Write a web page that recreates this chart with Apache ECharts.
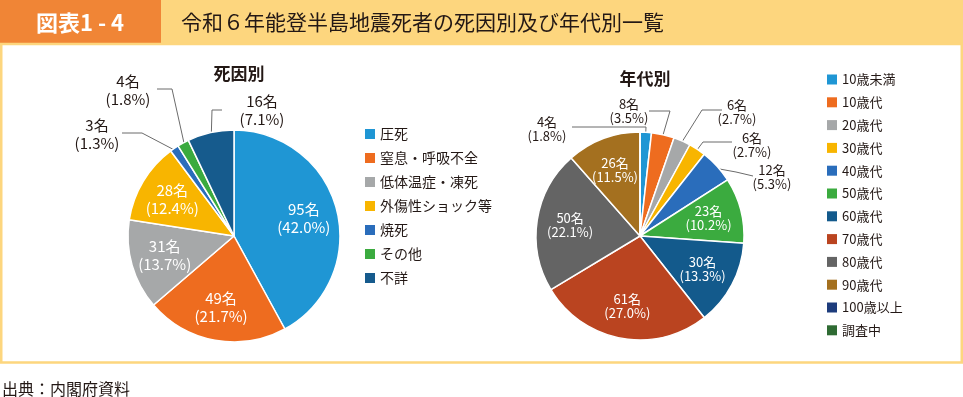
<!DOCTYPE html>
<html>
<head>
<meta charset="utf-8">
<script src="https://cdn.jsdelivr.net/npm/echarts@6/dist/echarts.min.js"></script>
<style>
  html, body { margin: 0; padding: 0; background: #fff; }
  #chart { width: 963px; height: 397px; }
</style>
</head>
<body>
<div id="chart"></div>
<script>
// 死因別
var causeNames = ["圧死", "窒息・呼吸不全", "低体温症・凍死", "外傷性ショック等", "焼死", "その他", "不詳"];
var causeValues = [95, 49, 31, 28, 3, 4, 16];
// 年代別
var ageNames = ["10歳未満", "10歳代", "20歳代", "30歳代", "40歳代", "50歳代", "60歳代", "70歳代", "80歳代", "90歳代", "100歳以上", "調査中"];
var ageValues = [4, 8, 6, 6, 12, 23, 30, 61, 50, 26, 0, 0];

var causeColors = ["#1f96d4", "#ee6c1f", "#a6a8a9", "#f8b500", "#2a6dbb", "#3bab3f", "#165b8d"];
var ageColors = ["#1f96d4", "#ee6c1f", "#a6a8a9", "#f8b500", "#2a6dbb", "#3bab3f", "#135a8c", "#ba4420", "#646464", "#a4701f", "#1d3c7c", "#2f6b33"];

var textColor = "#231815";

// pie geometry + where the small-slice labels sit
var pies = [
  {
    values: causeValues, center: [234, 236], r: 106, inner: 0.68,
    outside: {
      4: { pos: [97, 134], bend: [142, 133], end: [122, 133] },
      5: { pos: [128, 90], bend: [172, 89], end: [157, 89] },
      6: { pos: [262, 110], bend: [212, 110], end: [222, 110] }
    }
  },
  {
    values: ageValues, center: [640, 236], r: 104, inner: 0.68,
    outside: {
      0: { pos: [547, 129], bend: [646, 127], end: [572, 127] },
      1: { pos: [629, 111], bend: [670, 111], end: [649, 111] },
      2: { pos: [737, 112], bend: [702, 110], end: [722, 110] },
      3: { pos: [752, 145], bend: [703, 142], end: [732, 142] },
      4: { pos: [772, 177], bend: [736, 172], end: [753, 176] }
    }
  }
];

function sum(arr) {
  return arr.reduce(function (a, b) { return a + b; }, 0);
}

function midAngle(values, i) {
  var before = sum(values.slice(0, i));
  return (before + values[i] / 2) / sum(values) * Math.PI * 2;
}

function labelText(values) {
  var total = sum(values);
  return function (p) {
    return p.value + "名\n(" + (p.value / total * 100).toFixed(1) + "%)";
  };
}

function buildData(names, values, colors, pie) {
  return names.map(function (n, i) {
    var item = { name: n, value: values[i], itemStyle: { color: colors[i] } };
    if (values[i] === 0) {
      item.label = { show: false };
      item.labelLine = { show: false };
    } else if (pie.outside[i]) {
      item.label = { position: "outside", color: textColor };
      item.labelLine = { show: true, lineStyle: { color: "#6b6b6b", width: 1 } };
    }
    return item;
  });
}

function layoutFor(pie) {
  return function (params) {
    var a = midAngle(pie.values, params.dataIndex);
    var cx = pie.center[0], cy = pie.center[1];
    var o = pie.outside[params.dataIndex];
    if (o) {
      var sx = cx + (pie.r - 3) * Math.sin(a);
      var sy = cy - (pie.r - 3) * Math.cos(a);
      return {
        x: o.pos[0], y: o.pos[1], align: "center", verticalAlign: "middle",
        labelLinePoints: [[sx, sy], o.bend, o.end]
      };
    }
    return {
      x: cx + pie.r * pie.inner * Math.sin(a),
      y: cy - pie.r * pie.inner * Math.cos(a),
      align: "center", verticalAlign: "middle"
    };
  };
}

var chart = echarts.init(document.getElementById("chart"));

var font = "'Noto Sans CJK JP', 'Noto Sans', sans-serif";

chart.setOption({
  animation: false,
  textStyle: { fontFamily: font },
  title: [
    {
      text: "死因別", left: 234, top: 60, textAlign: "center",
      textStyle: { fontSize: 17, fontWeight: "bold", color: textColor, fontFamily: font }
    },
    {
      text: "年代別", left: 640, top: 65, textAlign: "center",
      textStyle: { fontSize: 17, fontWeight: "bold", color: textColor, fontFamily: font }
    }
  ],
  legend: [
    {
      data: causeNames, orient: "vertical", left: 360, top: 122,
      icon: "rect", itemWidth: 10, itemHeight: 10, itemGap: 10,
      selectedMode: false, itemStyle: { borderWidth: 0 },
      textStyle: { fontSize: 14, color: textColor, fontFamily: font }
    },
    {
      data: ageNames, orient: "vertical", left: 822, top: 68,
      icon: "rect", itemWidth: 10, itemHeight: 10, itemGap: 9.8,
      selectedMode: false, itemStyle: { borderWidth: 0 },
      textStyle: { fontSize: 13, color: textColor, fontFamily: font }
    }
  ],
  graphic: [
    { type: "rect", shape: { x: 0, y: 0, width: 963, height: 44 }, style: { fill: "#fdd67e" } },
    { type: "rect", shape: { x: 0, y: 0, width: 161, height: 44 }, style: { fill: "#f08536" } },
    {
      type: "text", x: 80, y: 23,
      style: { text: "図表1 - 4", fill: "#fff", font: "bold 22px " + font, textAlign: "center", textVerticalAlign: "middle" }
    },
    {
      type: "text", x: 181, y: 22,
      style: { text: "令和６年能登半島地震死者の死因別及び年代別一覧", fill: textColor, font: "21px " + font, textAlign: "left", textVerticalAlign: "middle" }
    },
    {
      type: "rect", shape: { x: 1.25, y: 44, width: 960.5, height: 318.5 },
      style: { fill: "none", stroke: "#fdd67e", lineWidth: 2.5 }
    },
    {
      type: "text", x: 2, y: 389,
      style: { text: "出典：内閣府資料", fill: textColor, font: "16px " + font, textAlign: "left", textVerticalAlign: "middle" }
    }
  ],
  series: [
    {
      type: "pie", name: "死因別",
      center: pies[0].center, radius: pies[0].r,
      startAngle: 90, clockwise: true, avoidLabelOverlap: false,
      itemStyle: { borderColor: "#fff", borderWidth: 1.5 },
      label: {
        position: "inside", color: "#fff", fontSize: 15, lineHeight: 18,
        fontFamily: font, formatter: labelText(causeValues)
      },
      labelLayout: layoutFor(pies[0]),
      emphasis: { disabled: true },
      data: buildData(causeNames, causeValues, causeColors, pies[0])
    },
    {
      type: "pie", name: "年代別",
      center: pies[1].center, radius: pies[1].r,
      startAngle: 90, clockwise: true, avoidLabelOverlap: false,
      itemStyle: { borderColor: "#fff", borderWidth: 1.5 },
      label: {
        position: "inside", color: "#fff", fontSize: 13, lineHeight: 14,
        fontFamily: font, formatter: labelText(ageValues)
      },
      labelLayout: layoutFor(pies[1]),
      emphasis: { disabled: true },
      data: buildData(ageNames, ageValues, ageColors, pies[1])
    }
  ]
});
</script>
</body>
</html>
